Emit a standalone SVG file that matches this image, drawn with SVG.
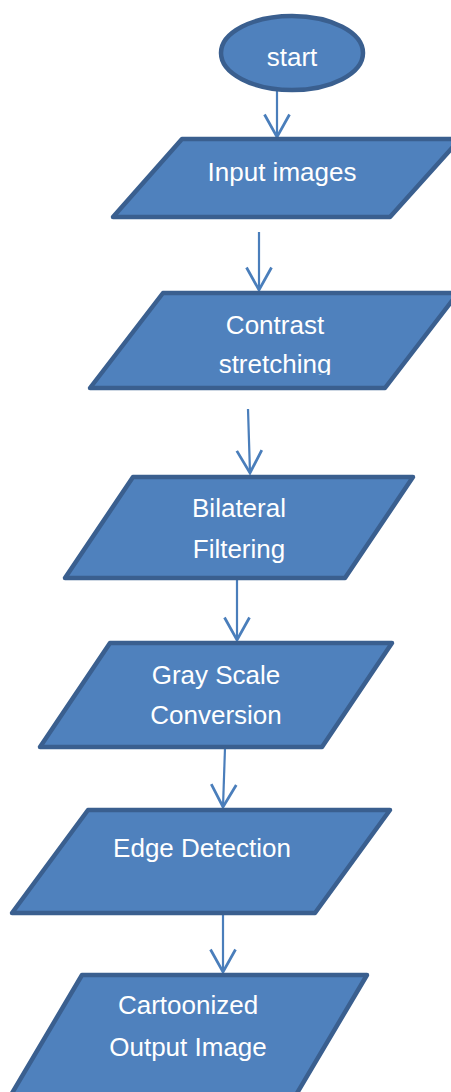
<svg xmlns="http://www.w3.org/2000/svg" width="451" height="1092" viewBox="0 0 451 1092">
<style>
.shape{fill:#4F81BD;stroke:#3A5F8F;stroke-width:4.5;stroke-linejoin:round}
.lbl{font-family:"Liberation Sans",Arial,sans-serif;font-size:26px;fill:#FFFFFF;text-anchor:middle}
.conn{stroke:#4A7EBB;stroke-width:2.2;fill:none}
</style>
<defs>
<marker id="arr" markerUnits="userSpaceOnUse" markerWidth="30" markerHeight="30" refX="0" refY="0" viewBox="-12 -20 24 24" orient="auto-start-reverse" overflow="visible">
<path d="M-10,-18 L0,0 L10,-18" fill="none" stroke="#4A7EBB" stroke-width="2.2" transform="rotate(-90)"/>
</marker>
<clipPath id="clipC"><rect x="0" y="290" width="451" height="85"/></clipPath>
</defs>
<g id="connectors">
<line class="conn" x1="277" y1="91" x2="277" y2="137" marker-end="url(#arr)"/>
<line class="conn" x1="259" y1="232" x2="259" y2="290" marker-end="url(#arr)"/>
<line class="conn" x1="248" y1="409" x2="250" y2="473" marker-end="url(#arr)"/>
<line class="conn" x1="237" y1="580" x2="237" y2="640" marker-end="url(#arr)"/>
<line class="conn" x1="225" y1="748" x2="223" y2="807" marker-end="url(#arr)"/>
<line class="conn" x1="223" y1="914" x2="223" y2="972" marker-end="url(#arr)"/>
</g>
<g id="start">
<ellipse class="shape" cx="292" cy="53" rx="71" ry="37"/>
<text class="lbl" x="292" y="66">start</text>
</g>
<g id="input">
<polygon class="shape" points="182,139 460,139 390,217 113,217"/>
<text class="lbl" x="282" y="181">Input images</text>
</g>
<g id="contrast">
<polygon class="shape" points="163,293 458,293 385,388 90,388"/>
<g clip-path="url(#clipC)">
<text class="lbl" x="275" y="334">Contrast</text>
<text class="lbl" x="275" y="373">stretching</text>
</g>
</g>
<g id="bilateral">
<polygon class="shape" points="133,477 413,477 345,578 65,578"/>
<text class="lbl" x="239" y="517">Bilateral</text>
<text class="lbl" x="239" y="558">Filtering</text>
</g>
<g id="gray">
<polygon class="shape" points="110,643 392,643 322,747 40,747"/>
<text class="lbl" x="216" y="684">Gray Scale</text>
<text class="lbl" x="216" y="724">Conversion</text>
</g>
<g id="edge">
<polygon class="shape" points="88,810 390,810 315,913 12,913"/>
<text class="lbl" x="202" y="857">Edge Detection</text>
</g>
<g id="output">
<polygon class="shape" points="82,975 367,975 290,1105 5,1105"/>
<text class="lbl" x="188" y="1014">Cartoonized</text>
<text class="lbl" x="188" y="1056">Output Image</text>
</g>
</svg>
